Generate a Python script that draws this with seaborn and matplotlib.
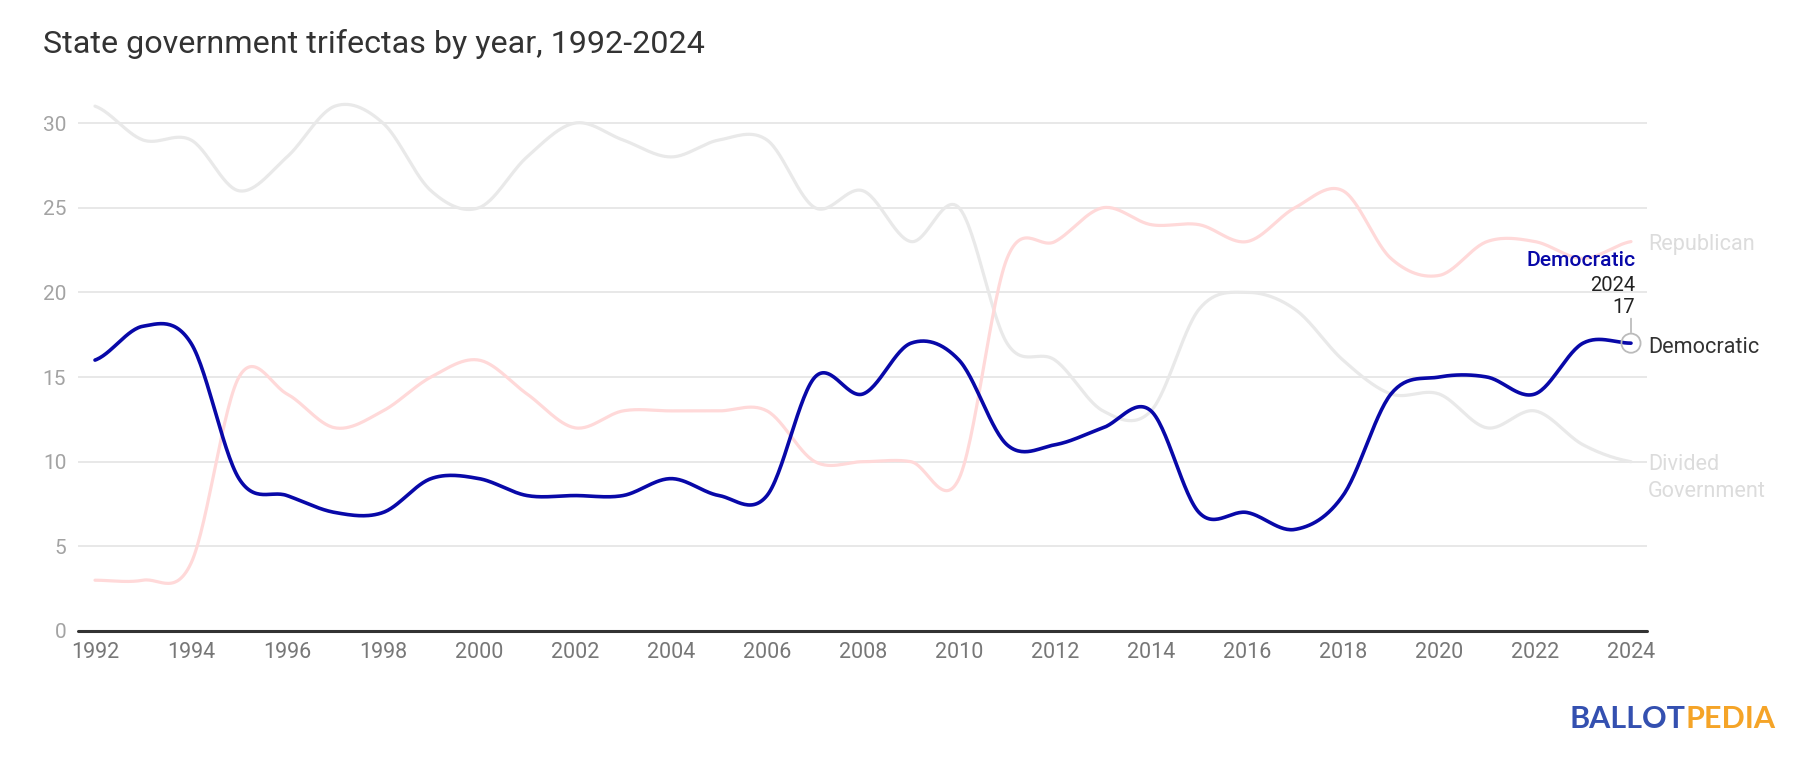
import numpy as np
import pandas as pd
import matplotlib
matplotlib.use("Agg")
import matplotlib.pyplot as plt
import seaborn as sns

# ---------------- data ----------------
years = list(range(1992, 2025))
democratic = [16, 18, 17, 9, 8, 7, 7, 9, 9, 8, 8, 8, 9, 8, 8, 15, 14, 17, 16, 11,
              11, 12, 13, 7, 7, 6, 8, 14, 15, 15, 14, 17, 17]
republican = [3, 3, 4, 15, 14, 12, 13, 15, 16, 14, 12, 13, 13, 13, 13, 10, 10, 10, 9, 22,
              23, 25, 24, 24, 23, 25, 26, 22, 21, 23, 23, 22, 23]
divided = [31, 29, 29, 26, 28, 31, 30, 26, 25, 28, 30, 29, 28, 29, 29, 25, 26, 23, 25, 17,
           16, 13, 13, 19, 20, 19, 16, 14, 14, 12, 13, 11, 10]
y_ticks = [0, 5, 10, 15, 20, 25, 30]
x_ticks = list(range(1992, 2025, 2))

title = "State government trifectas by year, 1992-2024"


def catmull_rom(xs, ys, n=30):
    """Smooth (Catmull-Rom, tension 0) curve through the data points."""
    xs = np.asarray(xs, float)
    ys = np.asarray(ys, float)
    m = np.empty_like(ys)
    m[1:-1] = (ys[2:] - ys[:-2]) / 2
    m[0] = (ys[1] - ys[0]) / 2
    m[-1] = (ys[-1] - ys[-2]) / 2
    ox, oy = [], []
    t = np.linspace(0, 1, n, endpoint=False)
    h00 = 2 * t**3 - 3 * t**2 + 1
    h10 = t**3 - 2 * t**2 + t
    h01 = -2 * t**3 + 3 * t**2
    h11 = t**3 - t**2
    for i in range(len(xs) - 1):
        ox.append(xs[i] + t * (xs[i + 1] - xs[i]))
        oy.append(h00 * ys[i] + h10 * m[i] + h01 * ys[i + 1] + h11 * m[i + 1])
    ox.append([xs[-1]])
    oy.append([ys[-1]])
    return np.concatenate(ox), np.concatenate(oy)


def curve_df(name, values):
    cx, cy = catmull_rom(years, values)
    return pd.DataFrame({"year": cx, "value": cy, "series": name})


sns.set_theme(style="white")
plt.rcParams["font.family"] = ["Roboto", "DejaVu Sans"]

W, H = 1818, 758
fig = plt.figure(figsize=(W / 100, H / 100), dpi=100)
ax_left, ax_right, ax_bottom, ax_top = 78, 1647, 631, 89.2
ax = fig.add_axes([ax_left / W, (H - ax_bottom) / H,
                   (ax_right - ax_left) / W, (ax_bottom - ax_top) / H])

colors = {"Divided Government": "#e9e9e9", "Republican": "#ffd9d9", "Democratic": "#0808a8"}

for name, vals, lw in [("Divided Government", divided, 2.3),
                       ("Republican", republican, 2.3),
                       ("Democratic", democratic, 2.6)]:
    sns.lineplot(data=curve_df(name, vals), x="year", y="value", ax=ax,
                 color=colors[name], linewidth=lw, sort=False, estimator=None,
                 legend=False, zorder=3 if name == "Democratic" else 2)

ax.set_xlim(1992 - 17 / 48, 2024 + 16 / 48)
ax.set_ylim(0, 32)
ax.set_yticks(y_ticks)
ax.set_xticks(x_ticks)
ax.set_xticklabels([str(x) for x in x_ticks])
ax.set_yticklabels([str(y) for y in y_ticks])
ax.grid(axis="y", color="#e6e6e6", linewidth=1.3, zorder=0)
ax.grid(axis="x", visible=False)
ax.axhline(0, color="#333333", linewidth=2.2, zorder=4)
for s in ax.spines.values():
    s.set_visible(False)
ax.tick_params(axis="y", length=0, pad=8.5, labelsize=15, labelcolor="#a3a3a3")
ax.tick_params(axis="x", length=0, pad=8, labelsize=15.5, labelcolor="#777777")
ax.set_xlabel("")
ax.set_ylabel("")
for line in ax.lines:
    line.set_clip_on(False)

# end labels
ax.annotate("Republican", xy=(years[-1], republican[-1]), xytext=(12.2, -2),
            textcoords="offset points", va="center", ha="left",
            fontsize=15.6, color="#dcdcdc")
ax.annotate("Democratic", xy=(years[-1], democratic[-1]), xytext=(12.2, -3),
            textcoords="offset points", va="center", ha="left",
            fontsize=15.6, color="#333333")
ax.annotate("Divided\nGovernment", xy=(years[-1], divided[-1]), xytext=(12.2, 5.5),
            textcoords="offset points", va="top", ha="left", linespacing=1.35,
            fontsize=15.6, color="#dcdcdc")

# tooltip-style highlight on last point
ax.scatter([years[-1]], [democratic[-1]], s=190, facecolors="none",
           edgecolors="#bbbbbb", linewidths=1.3, zorder=5, clip_on=False)
ax.annotate("", xy=(years[-1], democratic[-1]), xytext=(0, 17.8),
            textcoords="offset points",
            arrowprops=dict(arrowstyle="-", color="#aaaaaa", lw=1,
                            shrinkA=0, shrinkB=7.7))
ax.annotate("Democratic", xy=(years[-1], democratic[-1]), xytext=(3, 59.5),
            textcoords="offset points", va="center", ha="right",
            fontsize=15.2, color="#0808a8", fontweight="medium")
ax.annotate(str(years[-1]), xy=(years[-1], democratic[-1]), xytext=(3, 41.5),
            textcoords="offset points", va="center", ha="right",
            fontsize=14.5, color="#222222")
ax.annotate(str(democratic[-1]), xy=(years[-1], democratic[-1]), xytext=(3, 25.7),
            textcoords="offset points", va="center", ha="right",
            fontsize=14.5, color="#222222")

# title
fig.text(43 / W, 1 - 53 / H, title, fontsize=23.2, color="#333333", va="baseline", ha="left")

# logo
fig.text(1569 / W, 1 - 727.7 / H, "BALLOT", fontsize=22, fontweight="bold",
         color="#3450b0", va="baseline", ha="left", family=["Lato", "DejaVu Sans"])
fig.text(1686 / W, 1 - 727.7 / H, "PEDIA", fontsize=22, fontweight="bold",
         color="#f5a427", va="baseline", ha="left", family=["Lato", "DejaVu Sans"])

fig.savefig("out.png", dpi=100)
